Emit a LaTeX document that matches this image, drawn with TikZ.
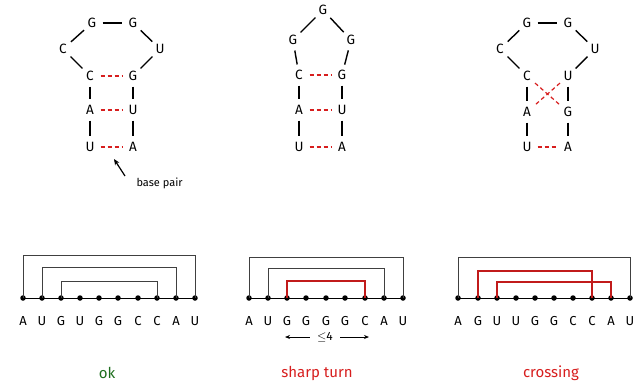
\documentclass[tikz,border=0pt]{standalone}
\usepackage{fontspec}
\setmainfont{Fira Sans}
\usetikzlibrary{arrows.meta}
\definecolor{pairred}{RGB}{215,30,30}
\definecolor{okgreen}{RGB}{30,110,30}
\tikzset{
  base/.style={circle,minimum size=21pt,inner sep=0pt,font=\fontsize{13.5}{13.5}\selectfont},
  bb/.style={draw=black,line width=1.4pt},
  bp/.style={draw=pairred,line width=1.2pt,dash pattern=on 4pt off 3pt},
  dot/.style={circle,fill=black,inner sep=0pt,minimum size=5.5pt},
  lett/.style={font=\fontsize{13}{13}\selectfont,inner sep=0pt},
  arcblack/.style={draw=black!75,line width=0.8pt},
  arcred/.style={draw=pairred!90!black,line width=1.6pt},
  lab/.style={font=\fontsize{15}{15}\selectfont}
}
\begin{document}
\begin{tikzpicture}[x=1pt,y=-1pt]
\useasboundingbox (0,0) rectangle (635,384);
% ---------- left hairpin ----------
\node[base] (l1) at (92,23) {G};
\node[base] (l2) at (133,23) {G};
\node[base] (l3) at (63,49) {C};
\node[base] (l4) at (160,49) {U};
\node[base] (l5) at (90,76) {C};
\node[base] (l6) at (133,76) {G};
\node[base] (l7) at (90,110) {A};
\node[base] (l8) at (133,110) {U};
\node[base] (l9) at (90,147) {U};
\node[base] (l10) at (133,147) {A};
\draw[bb] (l1)--(l2); \draw[bb] (l1)--(l3); \draw[bb] (l2)--(l4);
\draw[bb] (l3)--(l5); \draw[bb] (l4)--(l6);
\draw[bb] (l5)--(l7); \draw[bb] (l7)--(l9);
\draw[bb] (l6)--(l8); \draw[bb] (l8)--(l10);
\draw[bp] (l5)--(l6); \draw[bp] (l7)--(l8); \draw[bp] (l9)--(l10);
\node[font=\fontsize{11}{11}\selectfont,anchor=west] (bpl) at (133,183) {base pair};
\coordinate (bptail) at (125,176);
\coordinate (bptip) at (114,159);
\draw[line width=1.2pt,-{Stealth[length=6pt,width=5pt]}] (bptail)--(bptip);
% ---------- middle hairpin ----------
\node[base] (m1) at (323,10) {G};
\node[base] (m2) at (293,40) {G};
\node[base] (m3) at (351,40) {G};
\node[base] (m5) at (299,75) {C};
\node[base] (m6) at (342,75) {G};
\node[base] (m7) at (299,110) {A};
\node[base] (m8) at (342,110) {U};
\node[base] (m9) at (299,147) {U};
\node[base] (m10) at (342,147) {A};
\draw[bb] (m1)--(m2); \draw[bb] (m1)--(m3);
\draw[bb] (m2)--(m5); \draw[bb] (m3)--(m6);
\draw[bb] (m5)--(m7); \draw[bb] (m7)--(m9);
\draw[bb] (m6)--(m8); \draw[bb] (m8)--(m10);
\draw[bp] (m5)--(m6); \draw[bp] (m7)--(m8); \draw[bp] (m9)--(m10);
% ---------- right hairpin ----------
\node[base] (r1) at (527,23) {G};
\node[base] (r2) at (568,23) {G};
\node[base] (r3) at (500,49) {C};
\node[base] (r4) at (595,49) {U};
\node[base] (r5) at (527,76) {C};
\node[base] (r6) at (568,76) {U};
\node[base] (r7) at (527,112) {A};
\node[base] (r8) at (568,112) {G};
\node[base] (r9) at (527,147) {U};
\node[base] (r10) at (568,147) {A};
\draw[bb] (r1)--(r2); \draw[bb] (r1)--(r3); \draw[bb] (r2)--(r4);
\draw[bb] (r3)--(r5); \draw[bb] (r4)--(r6);
\draw[bb] (r5)--(r7); \draw[bb] (r7)--(r9);
\draw[bb] (r6)--(r8); \draw[bb] (r8)--(r10);
\draw[bp] (r5)--(r8); \draw[bp] (r6)--(r7); \draw[bp] (r9)--(r10);
% ---------- bottom left: ok ----------
\foreach \i/\x/\t in {1/23/A,2/42/U,3/61/G,4/80/U,5/99/G,6/118/G,7/138/C,8/157/C,9/176/A,10/195/U}{
  \node[dot] (a\i) at (\x,298) {};
  \node[lett] (at\i) at (\x,321) {\t};
}
\coordinate (ah1) at (0,255); \coordinate (ah2) at (0,267); \coordinate (ah3) at (0,281);
\draw[line width=1pt] (a1.center)--(a10.center);
\draw[arcblack] (a1.center)--(a1.center|-ah1)-|(a10.center);
\draw[arcblack] (a2.center)--(a2.center|-ah2)-|(a9.center);
\draw[arcblack] (a3.center)--(a3.center|-ah3)-|(a8.center);
% ---------- bottom middle: sharp turn ----------
\foreach \i/\x/\t in {1/249/A,2/268/U,3/287/G,4/306/G,5/326/G,6/345/G,7/365/C,8/384/A,9/403/U}{
  \node[dot] (b\i) at (\x,298) {};
  \node[lett] (bt\i) at (\x,321) {\t};
}
\coordinate (bh1) at (0,257); \coordinate (bh2) at (0,268); \coordinate (bh3) at (0,281);
\draw[line width=1pt] (b1.center)--(b9.center);
\draw[arcblack] (b1.center)--(b1.center|-bh1)-|(b9.center);
\draw[arcblack] (b2.center)--(b2.center|-bh2)-|(b8.center);
\draw[arcred] (b3.center)--(b3.center|-bh3)-|(b7.center);
\node[font=\fontsize{12}{12}\selectfont,inner sep=1pt] (le) at (325,337) {$\leq$4};
\coordinate (lea) at (285,337); \coordinate (leb) at (369,337);
\draw[line width=0.9pt,-{Stealth[length=5pt,width=4pt]},shorten <=6pt] (le.west|-lea)--(lea);
\draw[line width=0.9pt,-{Stealth[length=5pt,width=4pt]},shorten <=6pt] (le.east|-leb)--(leb);
% ---------- bottom right: crossing ----------
\foreach \i/\x/\t in {1/458/A,2/478/G,3/497/U,4/516/U,5/535/G,6/554/G,7/573/C,8/592/C,9/611/A,10/630/U}{
  \node[dot] (c\i) at (\x,298) {};
  \node[lett] (ct\i) at (\x,321) {\t};
}
\coordinate (ch1) at (0,257); \coordinate (ch2) at (0,271); \coordinate (ch3) at (0,282);
\draw[line width=1pt] (c1.center)--(c10.center);
\draw[arcblack] (c1.center)--(c1.center|-ch1)-|(c10.center);
\draw[arcred] (c2.center)--(c2.center|-ch2)-|(c8.center);
\draw[arcred] (c3.center)--(c3.center|-ch3)-|(c9.center);
% ---------- labels ----------
\node[lab,text=okgreen] (okl) at (107,373) {ok};
\node[lab,text=pairred] (stl) at (317,373) {sharp turn};
\node[lab,text=pairred] (crl) at (551,373) {crossing};
\end{tikzpicture}
\end{document}
